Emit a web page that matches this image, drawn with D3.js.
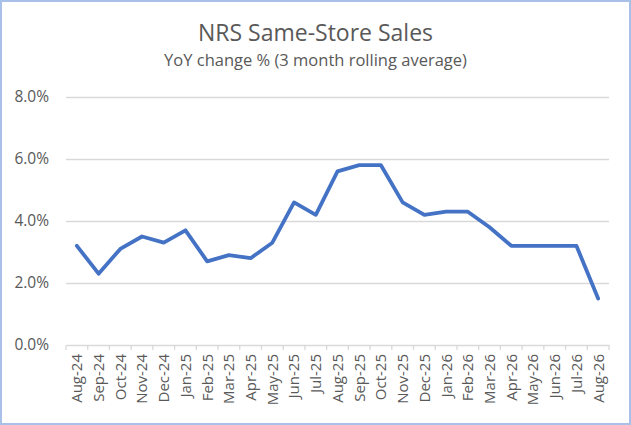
<!DOCTYPE html>
<html lang="en">
<head>
    <meta charset="UTF-8">
    <title>NRS Same-Store Sales</title>
    <script src="https://cdnjs.cloudflare.com/ajax/libs/d3/7.8.5/d3.min.js"></script>
    <style>
        html, body { margin: 0; padding: 0; background: #fff; }
        body { font-family: "Open Sans", "Noto Sans", sans-serif; }
        #chart { width: 631px; height: 425px; }
    </style>
</head>
<body>
    <div id="chart"></div>

    <script>
    // Values
    const months = ["Aug-24", "Sep-24", "Oct-24", "Nov-24", "Dec-24", "Jan-25", "Feb-25", "Mar-25",
        "Apr-25", "May-25", "Jun-25", "Jul-25", "Aug-25", "Sep-25", "Oct-25", "Nov-25", "Dec-25",
        "Jan-26", "Feb-26", "Mar-26", "Apr-26", "May-26", "Jun-26", "Jul-26", "Aug-26"];
    const yoyChange = [3.2, 2.3, 3.1, 3.5, 3.3, 3.7, 2.7, 2.9, 2.8, 3.3, 4.6, 4.2, 5.6, 5.8, 5.8,
        4.6, 4.2, 4.3, 4.3, 3.8, 3.2, 3.2, 3.2, 3.2, 1.5];
    const yTicks = [0, 2, 4, 6, 8];

    const W = 631, H = 425;
    const margin = {top: 97, right: 22, bottom: 80, left: 66};
    const width = W - margin.left - margin.right;
    const height = H - margin.top - margin.bottom;
    const textColor = "#595959";

    const svg = d3.select("#chart").append("svg")
        .attr("width", W)
        .attr("height", H);

    // chart border
    svg.append("rect")
        .attr("x", 1).attr("y", 1)
        .attr("width", W - 2).attr("height", H - 2)
        .attr("fill", "#fff")
        .attr("stroke", "#a9c1e8")
        .attr("stroke-width", 2);

    // titles
    svg.append("text")
        .attr("x", W / 2).attr("y", 40.5)
        .attr("text-anchor", "middle")
        .attr("fill", textColor)
        .style("font-size", "23px")
        .text("NRS Same-Store Sales");
    svg.append("text")
        .attr("x", W / 2).attr("y", 65.5)
        .attr("text-anchor", "middle")
        .attr("fill", textColor)
        .style("font-size", "16.5px")
        .text("YoY change % (3 month rolling average)");

    const g = svg.append("g")
        .attr("transform", `translate(${margin.left},${margin.top})`);

    const x = d3.scaleBand()
        .domain(months)
        .range([0, width]);

    const y = d3.scaleLinear()
        .domain([0, 8])
        .range([height, 0]);

    // gridlines + y labels
    const yAxis = g.append("g")
        .call(d3.axisLeft(y)
            .tickValues(yTicks)
            .tickSize(-width)
            .tickPadding(17)
            .tickFormat(d => d.toFixed(1) + "%"));
    yAxis.select(".domain").remove();
    yAxis.selectAll(".tick line")
        .attr("stroke", "#d9d9d9")
        .attr("stroke-width", 1.3);
    yAxis.selectAll(".tick text")
        .attr("fill", textColor)
        .style("font-size", "15.5px")
        .style("font-family", "'Open Sans', sans-serif");
    yAxis.selectAll(".tick").filter(d => d === 0).select("line").remove();

    // x axis with ticks at category boundaries
    const xAxis = g.append("g")
        .attr("transform", `translate(0,${height})`)
        .call(d3.axisBottom(x).tickSize(0).tickPadding(8));
    xAxis.select(".domain")
        .attr("stroke", "#d9d9d9")
        .attr("stroke-width", 1.3);
    xAxis.selectAll(".tick text")
        .attr("fill", textColor)
        .style("font-size", "15px")
        .style("font-family", "'Open Sans', sans-serif")
        .attr("transform", "rotate(-90)")
        .attr("text-anchor", "end")
        .attr("x", -9)
        .attr("y", 0)
        .attr("dy", "0.36em");

    const bounds = months.map(m => x(m)).concat([width]);
    xAxis.selectAll(".bound")
        .data(bounds)
        .enter().append("line")
        .attr("class", "bound")
        .attr("x1", d => d).attr("x2", d => d)
        .attr("y1", 0).attr("y2", 5)
        .attr("stroke", "#d9d9d9")
        .attr("stroke-width", 1.3);

    // series line
    const line = d3.line()
        .x((d, i) => x(months[i]) + x.bandwidth() / 2)
        .y(d => y(d));

    g.append("path")
        .datum(yoyChange)
        .attr("fill", "none")
        .attr("stroke", "#4472c4")
        .attr("stroke-width", 3.8)
        .attr("stroke-linejoin", "round")
        .attr("stroke-linecap", "round")
        .attr("d", line);
    </script>
</body>
</html>
